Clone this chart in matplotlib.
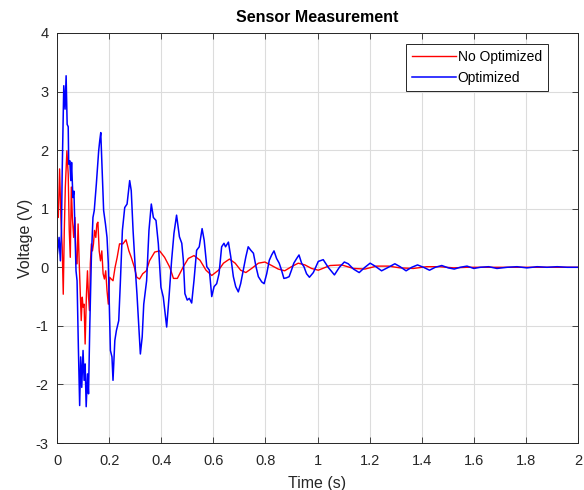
import matplotlib
matplotlib.use("Agg")
import matplotlib.pyplot as plt

plt.rcParams['font.family'] = ['Liberation Sans', 'DejaVu Sans']
plt.rcParams['axes.unicode_minus'] = False

# values (time in s, voltage in V)
t_opt = [0.0, 0.008, 0.013, 0.017, 0.02, 0.026, 0.031, 0.035, 0.039, 0.043, 0.045, 0.049,
         0.053, 0.056, 0.061, 0.065, 0.069, 0.073, 0.077, 0.082, 0.087, 0.091, 0.095, 0.1,
         0.104, 0.108, 0.112, 0.117, 0.121, 0.126, 0.132, 0.138, 0.143, 0.151, 0.16, 0.164,
         0.168, 0.173, 0.179, 0.186, 0.192, 0.197, 0.205, 0.211, 0.215, 0.222, 0.228, 0.237,
         0.243, 0.251, 0.26, 0.269, 0.279, 0.285, 0.292, 0.301, 0.307, 0.314, 0.32, 0.327,
         0.333, 0.344, 0.353, 0.362, 0.37, 0.38, 0.389, 0.399, 0.408, 0.421, 0.43, 0.44,
         0.449, 0.459, 0.47, 0.479, 0.485, 0.491, 0.5, 0.508, 0.517, 0.526, 0.536, 0.546,
         0.557, 0.565, 0.575, 0.585, 0.594, 0.603, 0.613, 0.622, 0.632, 0.641, 0.647, 0.658,
         0.667, 0.677, 0.686, 0.696, 0.705, 0.715, 0.725, 0.734, 0.744, 0.754, 0.764, 0.773,
         0.786, 0.795, 0.805, 0.815, 0.824, 0.833, 0.843, 0.853, 0.862, 0.871, 0.881, 0.891,
         0.9, 0.909, 0.92, 0.929, 0.939, 0.948, 0.958, 0.969, 0.984, 1.003, 1.022, 1.041,
         1.065, 1.084, 1.103, 1.118, 1.138, 1.16, 1.182, 1.202, 1.221, 1.246, 1.272, 1.297,
         1.317, 1.34, 1.362, 1.384, 1.407, 1.43, 1.452, 1.477, 1.502, 1.525, 1.548, 1.574,
         1.6, 1.625, 1.657, 1.689, 1.728, 1.766, 1.804, 1.843, 1.881, 1.92, 1.958, 2.0]
v_opt = [0.17, 0.51, 0.11, 0.62, 1.65, 3.1, 2.7, 3.27, 2.44, 2.4, 1.76, 1.82,
         1.48, 1.79, 1.19, 1.3, 0.63, -0.06, -0.23, -1.36, -2.36, -1.53, -2.05, -1.42,
         -1.93, -1.65, -2.38, -1.82, -2.16, -0.97, 0.17, 0.85, 0.97, 1.42, 1.99, 2.16,
         2.3, 1.71, 0.97, 0.74, 0.51, 0.06, -1.42, -1.53, -1.93, -1.25, -1.08, -0.91,
         -0.28, 0.63, 1.02, 1.08, 1.48, 1.31, 0.63, -0.06, -0.46, -1.02, -1.48, -1.19,
         -0.63, -0.23, 0.63, 1.08, 0.85, 0.8, 0.4, -0.34, -0.51, -1.02, -0.51, 0.12,
         0.58, 0.89, 0.52, 0.41, 0.12, -0.45, -0.56, -0.53, -0.61, -0.22, 0.29, 0.35,
         0.66, 0.46, 0.01, -0.05, -0.5, -0.33, -0.28, -0.11, 0.35, 0.41, 0.35, 0.43,
         0.18, -0.16, -0.33, -0.42, -0.28, -0.05, 0.18, 0.35, 0.29, 0.24, 0.01, -0.16,
         -0.25, -0.28, -0.11, 0.12, 0.21, 0.28, 0.15, 0.07, -0.05, -0.19, -0.18, -0.16,
         -0.05, 0.07, 0.15, 0.21, 0.07, 0.01, -0.11, -0.17, -0.09, 0.1, 0.13, 0.0,
         -0.13, 0.0, 0.09, 0.06, -0.03, -0.09, 0.0, 0.07, 0.02, -0.06, 0.0, 0.06,
         0.01, -0.06, 0.0, 0.04, 0.0, -0.05, 0.0, 0.03, -0.01, -0.03, 0.0, 0.02,
         -0.02, 0.0, 0.01, -0.02, 0.0, 0.01, -0.01, 0.01, 0.0, 0.01, 0.0, 0.0]

t_no = [0.0, 0.005, 0.01, 0.015, 0.02, 0.024, 0.028, 0.032, 0.038, 0.043, 0.047, 0.051,
        0.055, 0.059, 0.064, 0.069, 0.073, 0.077, 0.081, 0.085, 0.089, 0.093, 0.097, 0.1,
        0.104, 0.108, 0.113, 0.117, 0.121, 0.125, 0.128, 0.132, 0.136, 0.14, 0.144, 0.149,
        0.153, 0.157, 0.162, 0.167, 0.172, 0.177, 0.182, 0.187, 0.192, 0.197, 0.202, 0.208,
        0.215, 0.223, 0.231, 0.24, 0.253, 0.265, 0.276, 0.285, 0.297, 0.306, 0.317, 0.329,
        0.343, 0.355, 0.375, 0.394, 0.413, 0.433, 0.447, 0.462, 0.485, 0.504, 0.526, 0.549,
        0.572, 0.594, 0.62, 0.639, 0.662, 0.684, 0.705, 0.725, 0.747, 0.773, 0.798, 0.824,
        0.849, 0.874, 0.9, 0.926, 0.952, 0.977, 1.003, 1.048, 1.093, 1.138, 1.182, 1.227,
        1.272, 1.317, 1.368, 1.419, 1.47, 1.522, 1.574, 1.7, 1.85, 2.0]
v_no = [1.02, 0.85, 1.68, 0.85, 0.34, -0.46, 0.63, 1.37, 1.99, 1.59, 0.63, 0.17,
        1.37, 0.85, 0.51, 0.85, 0.06, 0.06, 0.74, 0.11, -0.4, -0.91, -0.51, -0.68,
        -0.63, -1.31, -0.46, -0.06, -0.51, -0.74, 0.06, 0.4, 0.28, 0.4, 0.63, 0.51,
        0.74, 0.77, 0.28, 0.11, 0.28, -0.11, -0.2, -0.06, -0.4, -0.63, -0.17, -0.2,
        -0.23, 0.0, 0.17, 0.4, 0.4, 0.47, 0.28, 0.17, 0.0, -0.17, -0.2, -0.11,
        -0.06, 0.11, 0.26, 0.28, 0.17, 0.0, -0.19, -0.19, 0.01, 0.15, 0.2, 0.12,
        -0.05, -0.14, -0.05, 0.07, 0.14, 0.07, -0.05, -0.09, -0.02, 0.07, 0.09, 0.03,
        -0.03, -0.06, 0.01, 0.07, 0.04, -0.02, -0.05, 0.03, 0.04, -0.02, -0.03, 0.02,
        0.02, -0.01, -0.02, 0.01, 0.01, -0.01, 0.0, 0.0, 0.0, 0.0]

x_ticks = [0, 0.2, 0.4, 0.6, 0.8, 1, 1.2, 1.4, 1.6, 1.8, 2]
x_labels = ['0', '0.2', '0.4', '0.6', '0.8', '1', '1.2', '1.4', '1.6', '1.8', '2']
y_ticks = [-3, -2, -1, 0, 1, 2, 3, 4]

fig = plt.figure(figsize=(5.84, 4.9), dpi=100)
ax = fig.add_axes([57 / 584, 47 / 490, 521 / 584, 410 / 490])

ax.plot(t_no, v_no, color='#ff0000', lw=1.0, label='No Optimized')
ax.plot(t_opt, v_opt, color='#0000ff', lw=1.1, label='Optimized')

ax.set_xlim(0, 2)
ax.set_ylim(-3, 4)
ax.set_xticks(x_ticks)
ax.set_xticklabels(x_labels)
ax.set_yticks(y_ticks)

ax.grid(True, color='#dcdcdc', lw=0.8)
ax.set_axisbelow(True)
ax.tick_params(direction='in', top=True, right=True, length=4, width=0.6,
               labelsize=10.5, colors='#262626')
ax.tick_params(axis='x', pad=8)
ax.tick_params(axis='y', pad=6)
for s in ax.spines.values():
    s.set_color('#262626')
    s.set_linewidth(0.7)

ax.set_title('Sensor Measurement', fontsize=11.5, fontweight='bold', pad=8)
ax.set_ylabel('Voltage (V)', fontsize=11.5, color='#262626', labelpad=2)
ax.set_xlabel('Time (s)', fontsize=11.5, color='#262626', labelpad=6)

leg = ax.legend(loc='upper right', bbox_to_anchor=(0.9424, 0.973), fontsize=10,
                fancybox=False, framealpha=1, edgecolor='#262626',
                handlelength=3.1, handletextpad=0.15, borderpad=0.45,
                labelspacing=0.45, borderaxespad=0.0)
leg.get_frame().set_linewidth(0.7)

fig.savefig('out.png', dpi=100, facecolor='white')
